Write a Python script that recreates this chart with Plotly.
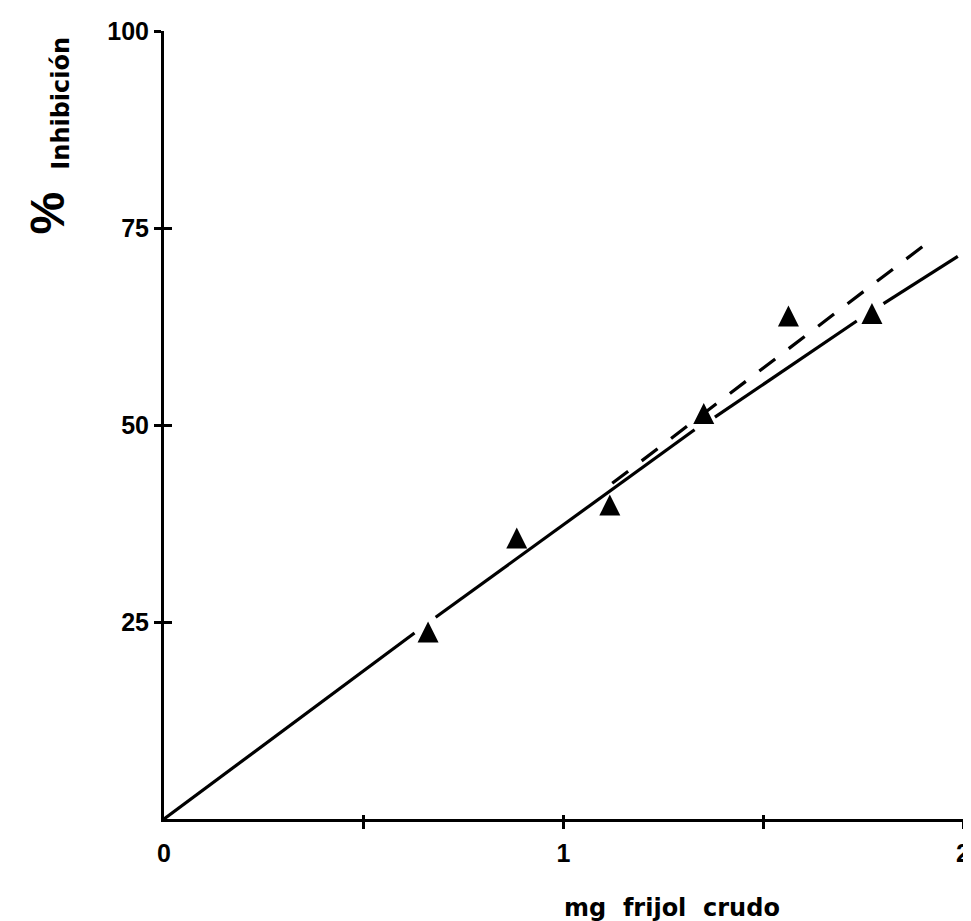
import plotly.graph_objects as go

# ---- data ----
dose_mg = [0.661, 0.883, 1.116, 1.351, 1.563, 1.772]
inhibition_pct = [23.3, 35.2, 39.4, 51.0, 63.4, 63.7]

# solid fitted line (hand-drawn with gaps next to the symbols)
solid_x = [0, 0.627, None, 0.680, 1.328, None, 1.379, 1.734, None, 1.801, 1.987]
solid_y = [0, 23.6, None, 25.6, 49.4, None, 51.0, 63.2, None, 65.4, 71.4]

# dashed line
dashed_x = [1.122, 1.913]
dashed_y = [42.6, 73.2]

# axes ticks
x_label_vals = [0, 1, 2]
x_label_text = ["0", "1", "2"]
x_tick_marks = [0.5, 1, 1.5, 2]
y_tick_vals = [25, 50, 75, 100]
y_tick_text = ["25", "50", "75", "100"]

y_title_pct = "%"
y_title_word = "Inhibición"
x_title = "mg&nbsp;&nbsp;frijol&nbsp;&nbsp;crudo"

BLACK = "#000000"
TICK_FONT = dict(family="Liberation Sans", size=25, color=BLACK, weight="bold")
TITLE_FONT = dict(family="DejaVu Sans", size=24, color=BLACK, weight="bold")

fig = go.Figure()

fig.add_trace(go.Scatter(
    x=solid_x, y=solid_y, mode="lines",
    line=dict(color=BLACK, width=3.2), connectgaps=False,
    hoverinfo="skip", showlegend=False, cliponaxis=False,
))
fig.add_trace(go.Scatter(
    x=dashed_x, y=dashed_y, mode="lines",
    line=dict(color=BLACK, width=3.2, dash="20px,17px"),
    hoverinfo="skip", showlegend=False, cliponaxis=False,
))
# triangle markers: arrow-down rotated 180 gives a taller triangle;
# standoff recentres it on its centroid
msize = 21
fig.add_trace(go.Scatter(
    x=dose_mg, y=inhibition_pct, mode="markers",
    marker=dict(symbol="arrow-down", size=msize, angle=180,
                standoff=msize * 2 / 3, color=BLACK,
                line=dict(width=0)),
    showlegend=False, cliponaxis=False,
))
# dummy traces to activate overlay axes for crossing tick marks
fig.add_trace(go.Scatter(x=[None], y=[None], xaxis="x2", yaxis="y2",
                         showlegend=False, hoverinfo="skip"))
fig.add_trace(go.Scatter(x=[None], y=[None], xaxis="x3", yaxis="y",
                         showlegend=False, hoverinfo="skip"))

fig.update_layout(
    width=971, height=921, autosize=False,
    margin=dict(l=156, r=9, t=22, b=110),
    paper_bgcolor="white", plot_bgcolor="white",
    showlegend=False,
    xaxis=dict(
        range=[0, 2], showgrid=False, zeroline=False,
        showline=True, linecolor=BLACK, linewidth=3,
        tickmode="array", tickvals=x_label_vals, ticktext=x_label_text,
        ticks="", tickfont=TICK_FONT, ticklabelstandoff=10,
        anchor="y",
    ),
    xaxis2=dict(
        range=[0, 2], matches="x", overlaying="x", anchor="y",
        showgrid=False, zeroline=False, showline=False,
        tickmode="array", tickvals=x_tick_marks, showticklabels=False,
        ticks="outside", ticklen=9, tickwidth=2.5, tickcolor=BLACK,
    ),
    xaxis3=dict(
        range=[0, 2], matches="x", overlaying="x", anchor="y",
        showgrid=False, zeroline=False, showline=False,
        tickmode="array", tickvals=x_tick_marks, showticklabels=False,
        ticks="inside", ticklen=4, tickwidth=2.5, tickcolor=BLACK,
    ),
    yaxis=dict(
        range=[0, 100], showgrid=False, zeroline=False,
        showline=True, linecolor=BLACK, linewidth=3,
        tickmode="array", tickvals=y_tick_vals, ticktext=y_tick_text,
        ticks="outside", ticklen=7, tickwidth=2.5, tickcolor=BLACK,
        tickfont=TICK_FONT, anchor="x",
    ),
    yaxis2=dict(
        range=[0, 100], matches="y", overlaying="y", anchor="x", side="left",
        showgrid=False, zeroline=False, showline=False,
        tickmode="array", tickvals=y_tick_vals, showticklabels=False,
        ticks="inside", ticklen=8, tickwidth=2.5, tickcolor=BLACK,
    ),
)

fig.add_annotation(
    text=y_title_pct, xref="paper", yref="paper",
    x=-0.147, y=0.769, xanchor="center", yanchor="middle",
    textangle=-90, showarrow=False,
    font=dict(family="Liberation Sans", size=48, color=BLACK, weight="bold"),
)
fig.add_annotation(
    text=y_title_word, xref="paper", yref="paper",
    x=-0.129, y=0.909, xanchor="center", yanchor="middle",
    textangle=-90, showarrow=False, font=TITLE_FONT,
)
fig.add_annotation(
    text=x_title, xref="paper", yref="paper",
    x=0.636, y=-0.113, xanchor="center", yanchor="middle",
    showarrow=False, font=TITLE_FONT,
)

fig.write_html("out.html")
